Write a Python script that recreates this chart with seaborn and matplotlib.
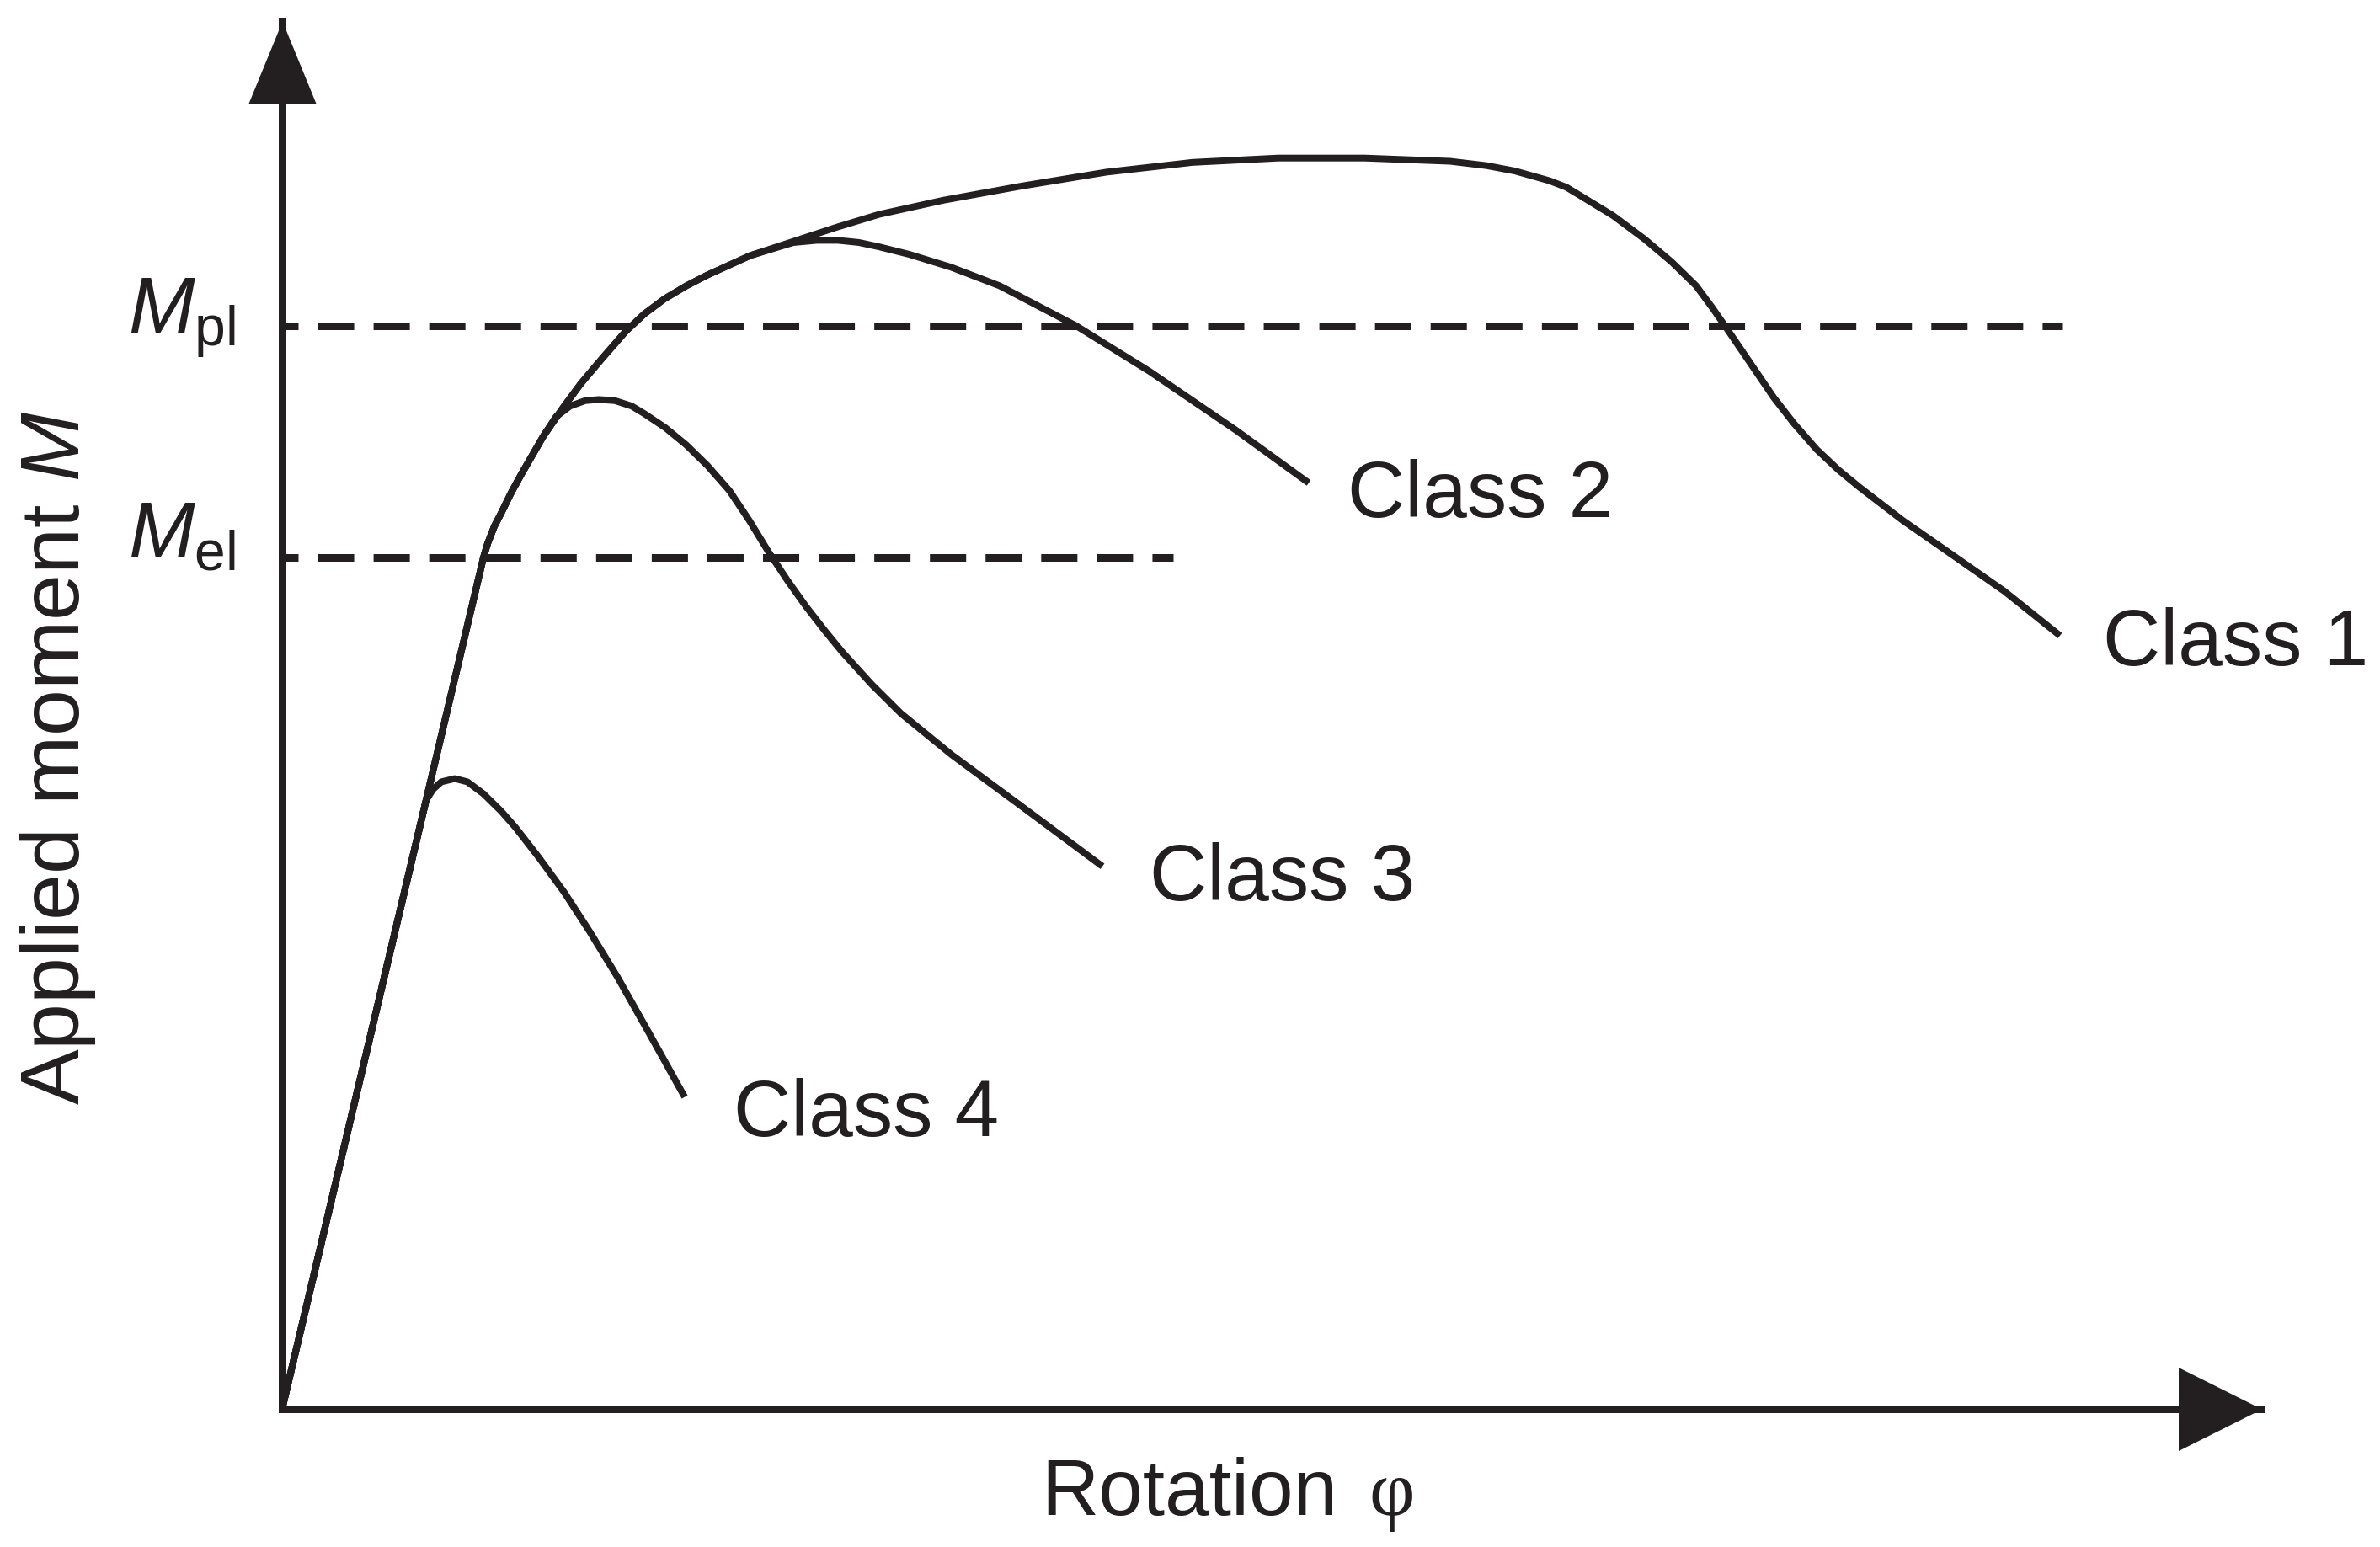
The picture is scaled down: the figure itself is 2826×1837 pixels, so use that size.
import matplotlib
matplotlib.use("Agg")
import matplotlib.pyplot as plt
from matplotlib import transforms
import pandas as pd
import seaborn as sns

# ---------------- data (rotation phi in arbitrary units, M normalised to M_pl = 1) -------------
phi_elastic = [0.00, 2.39]
M_elastic = [0.000, 0.786]

phi_rise = [2.44, 2.52, 2.60, 2.72, 2.84, 3.10, 3.34, 3.55, 3.80, 4.08, 4.30, 4.54, 4.80, 5.05,
            5.56, 6.07]
M_rise = [0.799, 0.815, 0.827, 0.846, 0.863, 0.898, 0.925, 0.947, 0.970, 0.995, 1.011, 1.025,
          1.037, 1.047, 1.065, 1.078]

phi_class1_tail = [6.58, 7.09, 7.85, 8.77, 9.79, 10.81, 11.83, 12.85, 13.87, 14.30, 14.64, 15.05,
                   15.25, 15.42, 15.80, 16.18, 16.50, 16.79, 16.98, 17.15, 17.43, 17.71, 17.95,
                   18.22, 18.48, 18.73, 19.25, 19.75, 20.45, 21.11]
M_class1_tail = [1.091, 1.103, 1.116, 1.129, 1.142, 1.151, 1.155, 1.155, 1.152, 1.148, 1.143, 1.134,
                 1.128, 1.120, 1.102, 1.080, 1.059, 1.037, 1.017, 0.998, 0.966, 0.934, 0.910,
                 0.886, 0.867, 0.851, 0.820, 0.793, 0.755, 0.714]

phi_class2_tail = [6.07, 6.35, 6.60, 6.85, 7.09, 7.45, 7.95, 8.52, 9.43, 10.30, 11.32, 12.19]
M_class2_tail = [1.077, 1.079, 1.079, 1.077, 1.073, 1.066, 1.054, 1.037, 1.000, 0.958, 0.904, 0.855]

phi_class3_tail = [3.25, 3.42, 3.60, 3.76, 3.95, 4.15, 4.30, 4.55, 4.80, 5.05, 5.31, 5.55, 5.77,
                   6.00, 6.22, 6.45, 6.65, 7.00, 7.35, 7.95, 8.77, 9.74]
M_class3_tail = [0.916, 0.926, 0.931, 0.932, 0.931, 0.926, 0.919, 0.906, 0.890, 0.871, 0.848,
                 0.820, 0.792, 0.765, 0.741, 0.718, 0.699, 0.669, 0.642, 0.604, 0.557, 0.501]

phi_class4_tail = [1.71, 1.79, 1.89, 2.05, 2.20, 2.39, 2.60, 2.77, 3.05, 3.35, 3.65, 3.98, 4.35, 4.78]
M_class4_tail = [0.562, 0.572, 0.579, 0.582, 0.579, 0.568, 0.552, 0.537, 0.509, 0.477, 0.441,
                 0.399, 0.348, 0.288]

class_names = ["Class 1", "Class 2", "Class 3", "Class 4"]
label_phi = [21.62, 12.65, 10.30, 5.36]
label_M = [0.687, 0.8235, 0.470, 0.252]

ref_names = [r"$M_{\mathrm{pl}}$", r"$M_{\mathrm{el}}$"]
ref_M = [1.000, 0.786]
ref_end_phi = [21.14, 10.58]
ref_label_M = [0.994, 0.786]

x_label = "Rotation"
x_symbol = "\u03c6"
y_label = r"Applied moment $M$"

# ---------------- build long table ----------------
n_c2 = phi_rise.index(5.56) + 1   # class 2 leaves the common branch after this point
n_c3 = phi_rise.index(3.10) + 1   # class 3 leaves the common branch after this point
curves = {
    "Class 1": (phi_elastic + phi_rise + phi_class1_tail, M_elastic + M_rise + M_class1_tail),
    "Class 2": (phi_elastic + phi_rise[:n_c2] + phi_class2_tail,
                M_elastic + M_rise[:n_c2] + M_class2_tail),
    "Class 3": (phi_elastic + phi_rise[:n_c3] + phi_class3_tail,
                M_elastic + M_rise[:n_c3] + M_class3_tail),
    "Class 4": (phi_elastic[:1] + phi_class4_tail, M_elastic[:1] + M_class4_tail),
}
rows = []
for name, (xs, ys) in curves.items():
    for i, (xv, yv) in enumerate(zip(xs, ys)):
        rows.append({"section": name, "order": i, "phi": xv, "M": yv})
df = pd.DataFrame(rows)

# ---------------- style ----------------
sns.set_theme(style="white")
plt.rcParams["font.family"] = ["Liberation Sans", "DejaVu Sans"]
plt.rcParams["mathtext.fontset"] = "custom"
plt.rcParams["mathtext.rm"] = "Liberation Sans"
plt.rcParams["mathtext.it"] = "Liberation Sans:italic"
plt.rcParams["mathtext.bf"] = "Liberation Sans:bold"

INK = "#231f20"
W, H, DPI = 2826, 1837, 100
PX = 72.0 / DPI  # points per pixel
FS = 68

fig = plt.figure(figsize=(W / DPI, H / DPI), dpi=DPI)
fig.patch.set_facecolor("white")
x0, y0 = 335, 1673   # origin (pixels from top-left)
x1, y1 = 2685, 25    # arrow tips
ax = fig.add_axes([x0 / W, (H - y0) / H, (x1 - x0) / W, (y0 - y1) / H])
ax.set_facecolor("white")

sns.lineplot(data=df, x="phi", y="M", hue="section", estimator=None, sort=False,
             palette={n: INK for n in class_names}, linewidth=8 * PX, legend=False, ax=ax)
for ln in ax.get_lines():
    ln.set_solid_joinstyle("round")
    ln.set_solid_capstyle("butt")

dash_lw = 9 * PX
ax.hlines(ref_M, 0, ref_end_phi, colors=INK, linewidth=dash_lw,
          linestyles=[(2.67, (4.78, 2.56))] * len(ref_M))

ax.set_xlim(0, 23.5)
ax.set_ylim(0, 1.2815)
ax.set_xticks([])
ax.set_yticks([])
ax.set_xlabel("")
ax.set_ylabel("")
sns.despine(ax=ax)
for s in ["left", "bottom"]:
    ax.spines[s].set_linewidth(9 * PX)
    ax.spines[s].set_color(INK)

# arrow heads
ms_x = 99 * PX
ms_y = 98 * PX
tr_x = transforms.offset_copy(ax.transAxes, fig=fig, x=-ms_x / 2, y=0, units="points")
tr_y = transforms.offset_copy(ax.transAxes, fig=fig, x=0, y=-ms_y / 2, units="points")
ax.plot([1], [0], marker=[(-1, -1), (1, 0), (-1, 1), (-1, -1)], ms=ms_x, mew=0,
        color=INK, transform=tr_x, clip_on=False)
ax.plot([0], [1], marker=[(-0.82, -1), (0, 1), (0.82, -1), (-0.82, -1)], ms=ms_y, mew=0,
        color=INK, transform=tr_y, clip_on=False)

# class labels
for name, xv, yv in zip(class_names, label_phi, label_M):
    ax.text(xv, yv, name, fontsize=FS, color=INK, ha="left", va="baseline")

# reference level labels
for name, yv in zip(ref_names, ref_label_M):
    ax.text(-0.55, yv, name, fontsize=FS, color=INK, ha="right", va="baseline", clip_on=False)

# axis labels
fig.text(1236 / W, (H - 1799) / H, x_label, fontsize=FS, color=INK, ha="left", va="baseline")
fig.text(1625 / W, (H - 1799) / H, x_symbol, fontsize=FS, color=INK, ha="left", va="baseline",
         family=["Liberation Serif", "DejaVu Serif"])
fig.text(94 / W, (H - 900) / H, y_label, fontsize=71, color=INK, rotation=90,
         rotation_mode="anchor", ha="center", va="baseline")

fig.savefig("out.png", dpi=DPI, facecolor="white")
